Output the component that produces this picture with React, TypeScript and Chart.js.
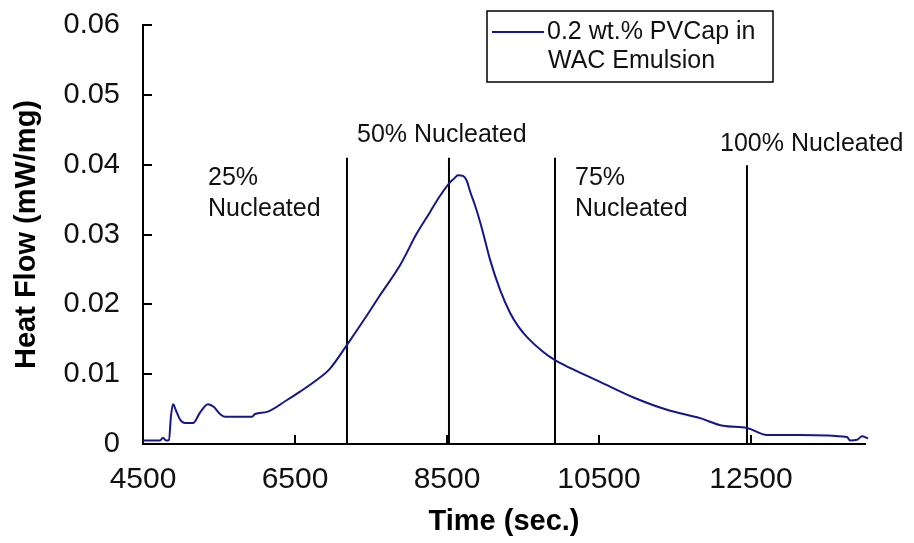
import React, { useEffect, useRef } from "react";
import { Chart, registerables } from "chart.js";

Chart.register(...registerables);

// ---- Data ----
const times = [
  4500, 4724, 4763, 4803, 4842, 4868, 4895, 4934, 4987, 5053, 5158, 5250, 5355, 5434, 5513, 5579,
  5934, 5974, 6132, 6395, 6566, 6789, 6961, 7184, 7421, 7618, 7882, 8105, 8276, 8400, 8526, 8592, 8645,
  8711, 8760, 8803, 8880, 8961, 9066, 9197, 9329, 9440, 9553, 9763, 9921, 10118, 10513, 10947, 11395, 11829, 12132,
  12447, 12711, 13145, 13763, 13803, 13895, 13961, 14040,
];
const heatFlow = [
  0.0005, 0.0005, 0.0009, 0.0005, 0.0006, 0.004, 0.0057, 0.0048, 0.0035, 0.003, 0.003, 0.0045, 0.0057,
  0.0053, 0.0043, 0.0039, 0.0039, 0.0043, 0.0046, 0.0063, 0.0075, 0.0092, 0.0108, 0.0142, 0.018,
  0.0213, 0.0256, 0.0302, 0.0332, 0.0354, 0.0373, 0.038, 0.0385, 0.0384, 0.0377, 0.0362, 0.0338, 0.0308, 0.0264, 0.0221,
  0.0188, 0.0168, 0.0153, 0.0132, 0.012, 0.0109, 0.0089, 0.0067, 0.0049, 0.0037, 0.0026, 0.0023, 0.0013,
  0.0013, 0.001, 0.0005, 0.0006, 0.0011, 0.0008,
];
const seriesLabel = ["0.2 wt.% PVCap in", "WAC Emulsion"];

const nucleationTimes = [7184, 8526, 9921, 12447];
const nucleationTops = [0.041, 0.041, 0.041, 0.0399];

const annotationLines = [["25%", "Nucleated"], ["50% Nucleated"], ["75%", "Nucleated"], ["100% Nucleated"]];
const annotationX = [5355, 7316, 10184, 12092];
const annotationY = [0.0381, 0.0443, 0.0381, 0.043];

const xTicks = [4500, 6500, 8500, 10500, 12500];
const yTicks = [0, 0.01, 0.02, 0.03, 0.04, 0.05, 0.06];
const xMin = 4500;
const xMax = 14000;
const yMin = 0;
const yMax = 0.06;

const FONT = '"Liberation Sans", Arial, sans-serif';
const LINE_COLOR = "#16168c";

export default function App() {
  const ref = useRef<HTMLCanvasElement | null>(null);

  useEffect(() => {
    const canvas = ref.current;
    if (!canvas) return;

    const decorations = {
      id: "decorations",
      afterDraw(chart: any) {
        const ctx = chart.ctx;
        const xs = chart.scales.x;
        const ys = chart.scales.y;
        const area = chart.chartArea;
        ctx.save();
        // inward tick marks
        ctx.strokeStyle = "#000";
        ctx.lineWidth = 2;
        yTicks.forEach((v) => {
          if (v === 0) return;
          const py = Math.round(ys.getPixelForValue(v));
          ctx.beginPath();
          ctx.moveTo(area.left, py);
          ctx.lineTo(area.left + 9, py);
          ctx.stroke();
        });
        xTicks.forEach((v) => {
          if (v === xMin) return;
          const px = Math.round(xs.getPixelForValue(v));
          ctx.beginPath();
          ctx.moveTo(px, area.bottom);
          ctx.lineTo(px, area.bottom - 9);
          ctx.stroke();
        });
        // annotation text
        ctx.fillStyle = "#111";
        ctx.font = `25px ${FONT}`;
        ctx.textAlign = "left";
        ctx.textBaseline = "middle";
        annotationLines.forEach((lines, i) => {
          const px = xs.getPixelForValue(annotationX[i]);
          const py = ys.getPixelForValue(annotationY[i]);
          lines.forEach((t, j) => ctx.fillText(t, px, py + j * 31));
        });
        // legend
        const lx = 487, ly = 11, lw = 286, lh = 71;
        ctx.fillStyle = "#fff";
        ctx.fillRect(lx, ly, lw, lh);
        ctx.strokeStyle = "#000";
        ctx.lineWidth = 1.5;
        ctx.strokeRect(lx, ly, lw, lh);
        ctx.strokeStyle = LINE_COLOR;
        ctx.lineWidth = 2;
        ctx.beginPath();
        ctx.moveTo(lx + 5, ly + 21);
        ctx.lineTo(lx + 57, ly + 21);
        ctx.stroke();
        ctx.fillStyle = "#111";
        ctx.font = `25px ${FONT}`;
        ctx.fillText(seriesLabel[0], lx + 60, ly + 21);
        ctx.fillText(seriesLabel[1], lx + 61, ly + 50);
        ctx.restore();
      },
    };

    const datasets: any[] = [
      {
        label: seriesLabel.join(" "),
        data: times.map((t, i) => ({ x: t, y: heatFlow[i] })),
        borderColor: LINE_COLOR,
        borderWidth: 2,
        pointRadius: 0,
        tension: 0.3,
        cubicInterpolationMode: "monotone",
        clip: false,
      },
      ...nucleationTimes.map((t, i) => ({
        label: "line" + i,
        data: [
          { x: t, y: 0 },
          { x: t, y: nucleationTops[i] },
        ],
        borderColor: "#000",
        borderWidth: 2,
        pointRadius: 0,
      })),
    ];

    const chart = new Chart(canvas, {
      type: "line",
      data: { datasets },
      plugins: [decorations],
      options: {
        responsive: false,
        animation: false,
        devicePixelRatio: 1,
        layout: { padding: { left: 0, top: 25, right: 49, bottom: 0 } },
        plugins: { legend: { display: false }, tooltip: { enabled: false } },
        scales: {
          x: {
            type: "linear",
            min: xMin,
            max: xMax,
            afterBuildTicks: (s: any) => {
              s.ticks = xTicks.map((v) => ({ value: v }));
            },
            afterFit: (s: any) => {
              s.height = 99;
              s.paddingLeft = 0;
              s.paddingRight = 0;
            },
            grid: { display: false, drawTicks: false },
            border: { display: true, color: "#000", width: 2 },
            ticks: {
              padding: 18,
              color: "#111",
              font: { family: FONT, size: 30 },
              maxRotation: 0,
              autoSkip: false,
              callback: (v: any) => String(v),
            },
            title: {
              display: true,
              text: "Time (sec.)",
              color: "#000",
              font: { family: FONT, size: 29, weight: "bold" },
              padding: { top: 0, bottom: 4 },
            },
          },
          y: {
            type: "linear",
            min: yMin,
            max: yMax,
            afterBuildTicks: (s: any) => {
              s.ticks = yTicks.map((v) => ({ value: v }));
            },
            afterFit: (s: any) => {
              s.width = 143;
              s.paddingTop = 0;
              s.paddingBottom = 0;
            },
            grid: { display: false, drawTicks: false },
            border: { display: true, color: "#000", width: 2 },
            ticks: {
              padding: 23,
              color: "#111",
              font: { family: FONT, size: 29 },
              callback: (v: any) => (v === 0 ? "0" : Number(v).toFixed(2)),
            },
            title: {
              display: true,
              text: "Heat Flow (mW/mg)",
              color: "#000",
              font: { family: FONT, size: 29, weight: "bold" },
              padding: { top: 10, bottom: 0 },
            },
          },
        },
      },
    });
    return () => chart.destroy();
  }, []);

  return (
    <div style={{ position: "absolute", left: 0, top: 0, width: 914, height: 543, background: "#fff" }}>
      <canvas ref={ref} width={914} height={543} style={{ display: "block", width: 914, height: 543 }} />
    </div>
  );
}
